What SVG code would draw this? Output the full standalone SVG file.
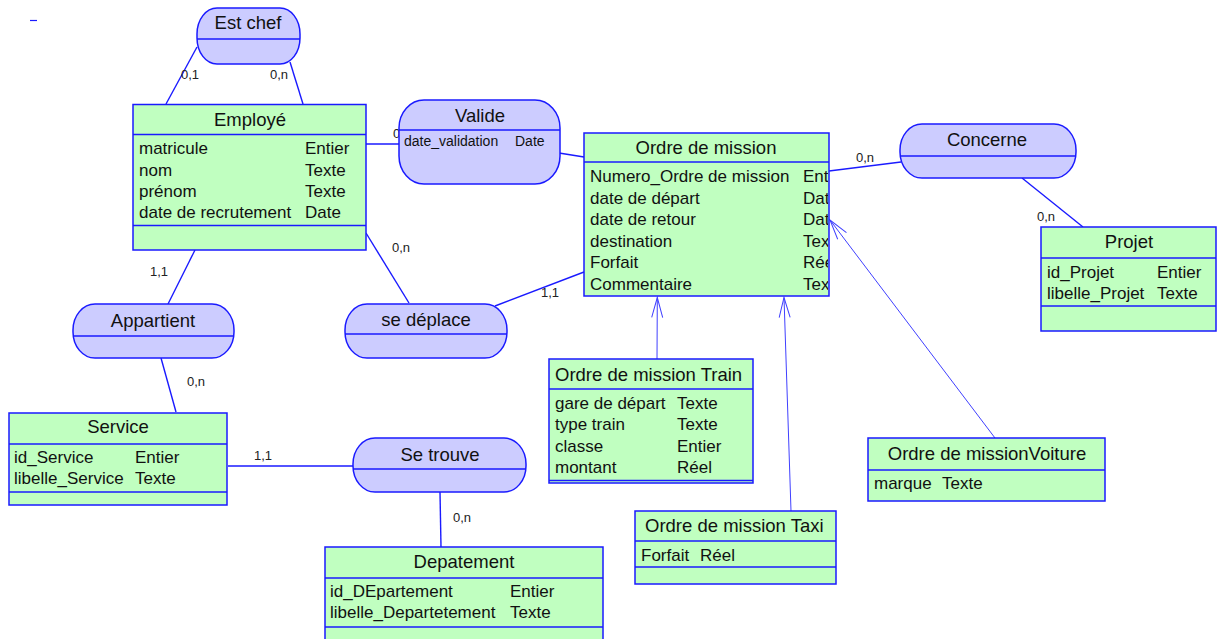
<svg xmlns="http://www.w3.org/2000/svg" width="1217" height="639" viewBox="0 0 1217 639">
<style>
.ent{fill:#c0ffc0;stroke:#1a1aff;stroke-width:1.5}
.rel{fill:#ccccff;stroke:#1a1aff;stroke-width:1.5}
.div{stroke:#1a1aff;stroke-width:1.5;fill:none}
.cn{stroke:#1a1aff;stroke-width:1.4;fill:none}
.inh{stroke:#4040ff;stroke-width:1;fill:none}
text{font-family:"Liberation Sans",Arial,sans-serif;fill:#111}
.t{font-size:18.5px}
.tc{font-size:18.5px;text-anchor:middle}
.a{font-size:17px}
.s{font-size:14px}
.lb{font-size:13px;fill:#222}
</style>
<defs>
<marker id="open" markerUnits="userSpaceOnUse" markerWidth="24" markerHeight="14" refX="20" refY="6" orient="auto" overflow="visible">
<path d="M0,0.5 L20,6 L0,11.5" fill="none" stroke="#4040ff" stroke-width="1"/>
</marker>
<clipPath id="clipOrdre"><rect x="584" y="133" width="244" height="163"/></clipPath>
</defs>
<rect width="1217" height="639" fill="#ffffff"/>
<line x1="30" y1="20.5" x2="37" y2="20.5" stroke="#1a1aff" stroke-width="1.2"/>

<g id="connectors">
<line class="cn" x1="197" y1="47" x2="166" y2="104"/>
<line class="cn" x1="290" y1="62" x2="303" y2="104"/>
<line class="cn" x1="366" y1="144" x2="399" y2="144"/>
<line class="cn" x1="559" y1="153" x2="584" y2="157"/>
<line class="cn" x1="366" y1="233" x2="409" y2="303"/>
<line class="cn" x1="495" y1="306" x2="584" y2="272"/>
<line class="cn" x1="829" y1="171" x2="901" y2="162"/>
<line class="cn" x1="1022" y1="178" x2="1083" y2="227"/>
<line class="cn" x1="195" y1="250" x2="168" y2="304"/>
<line class="cn" x1="161" y1="358" x2="176" y2="412"/>
<line class="cn" x1="228" y1="466" x2="354" y2="466"/>
<line class="cn" x1="440" y1="492" x2="441" y2="547"/>
<line class="inh" x1="657" y1="359" x2="657.3" y2="297.5" marker-end="url(#open)"/>
<line class="inh" x1="791" y1="511" x2="784" y2="297.5" marker-end="url(#open)"/>
<line class="inh" x1="995" y1="438" x2="830" y2="220" marker-end="url(#open)"/>
<text class="lb" x="181" y="79">0,1</text>
<text class="lb" x="270" y="79">0,n</text>
<text class="lb" x="393" y="138">0</text>
<text class="lb" x="392" y="252">0,n</text>
<text class="lb" x="541" y="297">1,1</text>
<text class="lb" x="856" y="162">0,n</text>
<text class="lb" x="1037" y="221">0,n</text>
<text class="lb" x="150" y="276">1,1</text>
<text class="lb" x="187" y="386">0,n</text>
<text class="lb" x="254" y="460">1,1</text>
<text class="lb" x="453" y="522">0,n</text>
</g>

<g id="est-chef">
<rect class="rel" x="197" y="8" width="103" height="56" rx="20" ry="26"/>
<line class="div" x1="197" y1="39" x2="300" y2="39"/>
<text class="tc" x="248" y="29">Est chef</text>
</g>

<g id="employe">
<rect class="ent" x="133" y="104.5" width="233" height="145.5"/>
<line class="div" x1="133" y1="134.5" x2="366" y2="134.5"/>
<line class="div" x1="133" y1="225.5" x2="366" y2="225.5"/>
<text class="tc" x="250" y="126">Employé</text>
<text class="a" x="139" y="154">matricule</text><text class="a" x="305" y="154">Entier</text>
<text class="a" x="139" y="175.5">nom</text><text class="a" x="305" y="175.5">Texte</text>
<text class="a" x="139" y="196.5">prénom</text><text class="a" x="305" y="196.5">Texte</text>
<text class="a" x="139" y="218">date de recrutement</text><text class="a" x="305" y="218">Date</text>
</g>

<g id="valide">
<rect class="rel" x="399" y="100" width="161" height="84" rx="25" ry="28"/>
<line class="div" x1="399" y1="130" x2="560" y2="130"/>
<text class="tc" x="480" y="122">Valide</text>
<text class="s" x="404" y="146">date_validation</text><text class="s" x="515" y="146">Date</text>
</g>

<g id="ordre-de-mission">
<rect class="ent" x="584" y="133" width="245" height="163"/>
<line class="div" x1="584" y1="162" x2="829" y2="162"/>
<text class="tc" x="706" y="154">Ordre de mission</text>
<g clip-path="url(#clipOrdre)">
<text class="a" x="590" y="182">Numero_Ordre de mission</text><text class="a" x="803" y="182">Entier</text>
<text class="a" x="590" y="203.5">date de départ</text><text class="a" x="803" y="203.5">Date</text>
<text class="a" x="590" y="225">date de retour</text><text class="a" x="803" y="225">Date</text>
<text class="a" x="590" y="246.5">destination</text><text class="a" x="803" y="246.5">Texte</text>
<text class="a" x="590" y="268">Forfait</text><text class="a" x="803" y="268">Réel</text>
<text class="a" x="590" y="289.5">Commentaire</text><text class="a" x="803" y="289.5">Texte</text>
</g>
</g>

<g id="concerne">
<rect class="rel" x="900" y="124" width="176" height="54" rx="22" ry="26"/>
<line class="div" x1="900" y1="156" x2="1076" y2="156"/>
<text class="tc" x="987" y="146">Concerne</text>
</g>

<g id="projet">
<rect class="ent" x="1041" y="227" width="175" height="104"/>
<line class="div" x1="1041" y1="258" x2="1216" y2="258"/>
<line class="div" x1="1041" y1="306" x2="1216" y2="306"/>
<text class="tc" x="1129" y="248">Projet</text>
<text class="a" x="1047" y="278">id_Projet</text><text class="a" x="1157" y="278">Entier</text>
<text class="a" x="1047" y="299">libelle_Projet</text><text class="a" x="1157" y="299">Texte</text>
</g>

<g id="appartient">
<rect class="rel" x="73" y="304" width="161" height="54" rx="22" ry="26"/>
<line class="div" x1="73" y1="336" x2="234" y2="336"/>
<text class="tc" x="153" y="327">Appartient</text>
</g>

<g id="se-deplace">
<rect class="rel" x="345" y="304" width="162" height="54" rx="22" ry="26"/>
<line class="div" x1="345" y1="334" x2="507" y2="334"/>
<text class="tc" x="426" y="326">se déplace</text>
</g>

<g id="service">
<rect class="ent" x="9" y="413" width="218" height="92"/>
<line class="div" x1="9" y1="444" x2="227" y2="444"/>
<line class="div" x1="9" y1="492" x2="227" y2="492"/>
<text class="tc" x="118" y="433">Service</text>
<text class="a" x="14" y="463">id_Service</text><text class="a" x="135" y="463">Entier</text>
<text class="a" x="14" y="484">libelle_Service</text><text class="a" x="135" y="484">Texte</text>
</g>

<g id="se-trouve">
<rect class="rel" x="353" y="438" width="173" height="54" rx="22" ry="26"/>
<line class="div" x1="353" y1="469" x2="526" y2="469"/>
<text class="tc" x="440" y="461">Se trouve</text>
</g>

<g id="depatement">
<rect class="ent" x="325" y="547" width="278" height="100"/>
<line class="div" x1="325" y1="578" x2="603" y2="578"/>
<line class="div" x1="325" y1="627" x2="603" y2="627"/>
<text class="tc" x="464" y="568">Depatement</text>
<text class="a" x="330" y="597">id_DEpartement</text><text class="a" x="510" y="597">Entier</text>
<text class="a" x="330" y="618">libelle_Departetement</text><text class="a" x="510" y="618">Texte</text>
</g>

<g id="ordre-train">
<rect class="ent" x="549" y="359" width="204" height="124"/>
<line class="div" x1="549" y1="389" x2="753" y2="389"/>
<line class="div" x1="549" y1="480.5" x2="753" y2="480.5"/>
<text class="t" x="555" y="381">Ordre de mission Train</text>
<text class="a" x="555" y="409">gare de départ</text><text class="a" x="677" y="409">Texte</text>
<text class="a" x="555" y="430">type train</text><text class="a" x="677" y="430">Texte</text>
<text class="a" x="555" y="452">classe</text><text class="a" x="677" y="452">Entier</text>
<text class="a" x="555" y="473">montant</text><text class="a" x="677" y="473">Réel</text>
</g>

<g id="ordre-taxi">
<rect class="ent" x="635" y="511" width="201" height="73"/>
<line class="div" x1="635" y1="541" x2="836" y2="541"/>
<line class="div" x1="635" y1="567" x2="836" y2="567"/>
<text class="t" x="645" y="532">Ordre de mission Taxi</text>
<text class="a" x="641" y="561">Forfait</text><text class="a" x="700" y="561">Réel</text>
</g>

<g id="ordre-voiture">
<rect class="ent" x="868" y="438" width="237" height="63"/>
<line class="div" x1="868" y1="470" x2="1105" y2="470"/>
<text class="tc" x="987" y="460">Ordre de missionVoiture</text>
<text class="a" x="874" y="489">marque</text><text class="a" x="942" y="489">Texte</text>
</g>
</svg>
